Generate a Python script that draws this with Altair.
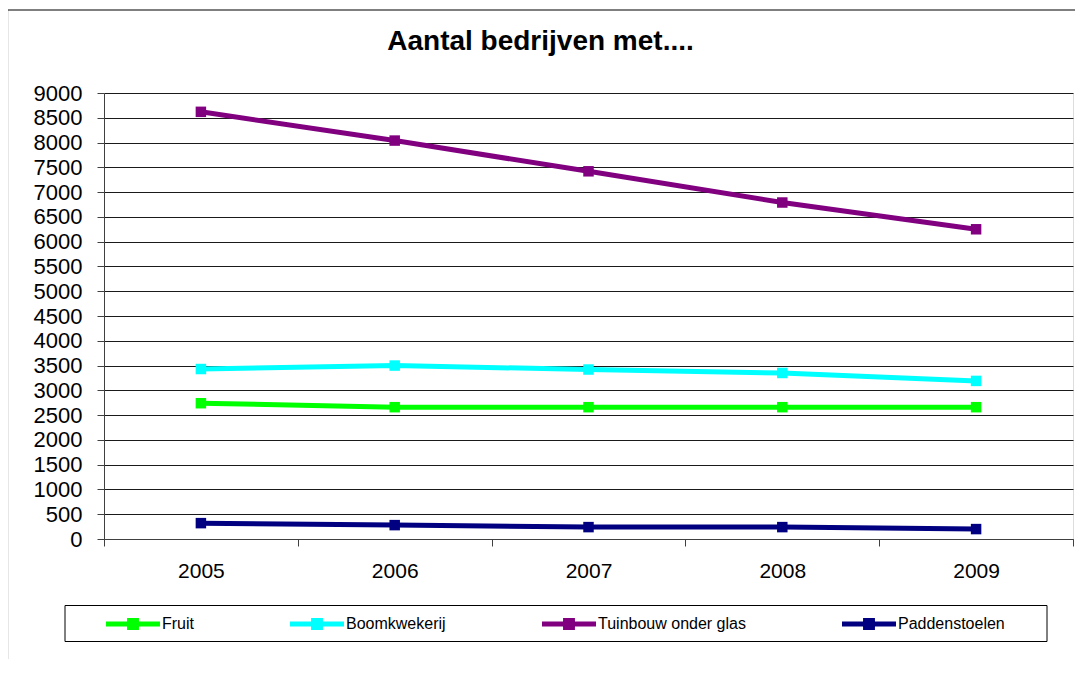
import altair as alt
import pandas as pd

years = ["2005", "2006", "2007", "2008", "2009"]
series_names = ["Fruit", "Boomkwekerij", "Tuinbouw onder glas", "Paddenstoelen"]
fruit = [2740, 2660, 2660, 2660, 2660]
boomkwekerij = [3430, 3500, 3420, 3350, 3190]
tuinbouw = [8620, 8040, 7420, 6790, 6250]
paddenstoelen = [320, 280, 240, 240, 200]
colors = ["#00FF00", "#00FFFF", "#800080", "#000080"]
y_ticks = list(range(0, 9001, 500))

rows = []
for name, vals in zip(series_names, [fruit, boomkwekerij, tuinbouw, paddenstoelen]):
    for yr, v in zip(years, vals):
        rows.append({"jaar": yr, "serie": name, "aantal": v})
df = pd.DataFrame(rows)

FONT = "Liberation Sans"

x_enc = alt.X("jaar:O", sort=years,
              scale=alt.Scale(type="band", paddingInner=0, paddingOuter=0),
              axis=alt.Axis(title=None, tickBand="extent", labelAngle=0,
                            labelFontSize=21, labelFont=FONT, labelColor="#000",
                            tickSize=7, tickColor="#404040", domainColor="#404040",
                            labelPadding=14, grid=False))
y_enc = alt.Y("aantal:Q",
              scale=alt.Scale(domain=[0, 9000], nice=False),
              axis=alt.Axis(title=None, values=y_ticks, format="d", labelFontSize=22,
                            labelFont=FONT, labelColor="#000", tickSize=7,
                            tickColor="#404040", domainColor="#404040", labelPadding=15,
                            grid=True, gridColor="#1a1a1a", gridWidth=1))
color_scale = alt.Scale(domain=series_names, range=colors)

sym_path = ("M-1,-0.09L1,-0.09L1,0.09L-1,0.09Z "
            "M-0.22,-0.22L0.22,-0.22L0.22,0.22L-0.22,0.22Z")

legend = alt.Legend(title=None, orient="none", direction="horizontal",
                    legendX=2, legendY=504, symbolType=sym_path,
                    symbolSize=2916, symbolStrokeWidth=0,
                    labelFontSize=16, labelFont=FONT, labelColor="#000",
                    labelOffset=2, columnPadding=96, padding=0)
color_enc = alt.Color("serie:N", scale=color_scale, sort=series_names, legend=legend)

base = alt.Chart(df)
lines = base.mark_line(strokeWidth=5).encode(x=x_enc, y=y_enc, color=color_enc)
points = base.mark_point(shape="square", filled=True, size=110, opacity=1).encode(
    x=x_enc, y=y_enc, color=color_enc)

one = pd.DataFrame({"a": [0]})
outer = alt.Chart(one).mark_rect(fill=None, stroke="#000", strokeWidth=1.2).encode(
    x=alt.value(-96.5), x2=alt.value(1100), y=alt.value(-83), y2=alt.value(700))
legend_box = alt.Chart(one).mark_rect(fill=None, stroke="#000", strokeWidth=1).encode(
    x=alt.value(-39), x2=alt.value(943), y=alt.value(512.5), y2=alt.value(548.5))

chart = alt.layer(outer, legend_box, lines, points).properties(
    width=969, height=446,
    autosize=alt.AutoSizeParams(type="none"),
    padding={"left": 96, "top": 85, "right": 2, "bottom": 120},
    title=alt.TitleParams("Aantal bedrijven met....", fontSize=28, font=FONT,
                          fontWeight="bold", color="#000", dx=-48, offset=0, dy=47,
                          frame="group"),
).configure_view(stroke="#8c8c8c", strokeWidth=1.5).configure(background="white")

chart.save("out.html", embed_options={"renderer": "svg", "actions": False})
